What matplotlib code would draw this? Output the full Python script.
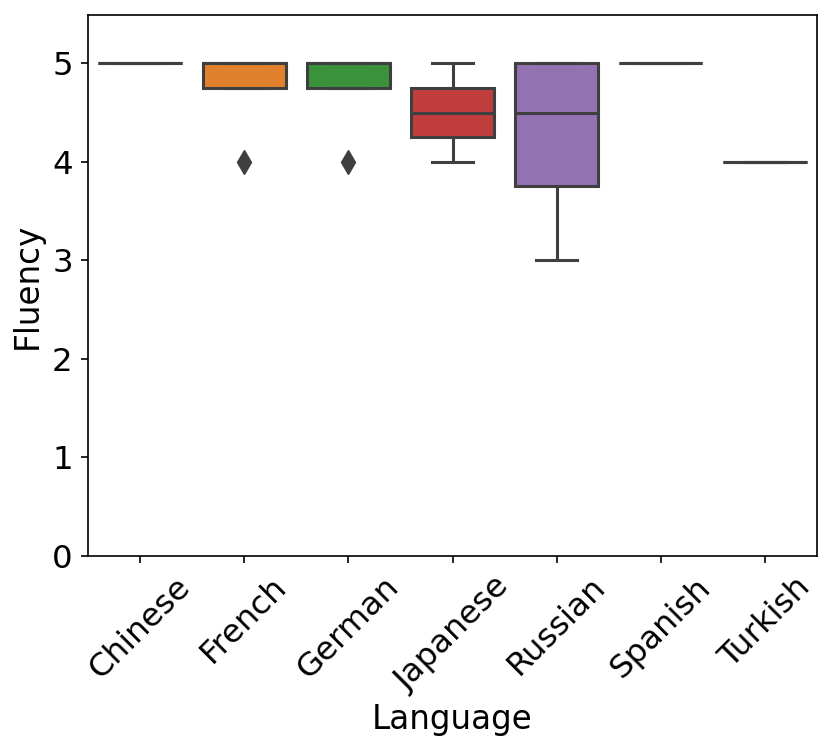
import matplotlib
matplotlib.use("Agg")
import matplotlib.pyplot as plt
import pandas as pd
import seaborn as sns

languages = ["Chinese", "French", "German", "Japanese", "Russian", "Spanish", "Turkish"]
chinese = [5, 5]
french = [4, 5, 5, 5]
german = [4, 5, 5, 5]
japanese = [4, 5]
russian = [3, 4, 5, 5]
spanish = [5, 5]
turkish = [4, 4]

scores = [chinese, french, german, japanese, russian, spanish, turkish]
rows = []
for lang, vals in zip(languages, scores):
    for v in vals:
        rows.append({"Language": lang, "Fluency": v})
df = pd.DataFrame(rows)

plt.rcParams["font.family"] = ["DejaVu Sans"]
fig = plt.figure(figsize=(8.31, 7.52), dpi=100)
ax = fig.add_axes([88 / 831, 1 - 556 / 752, (817 - 88) / 831, (556 - 15) / 752])

sns.boxplot(
    data=df, x="Language", y="Fluency", hue="Language", order=languages,
    palette="tab10", saturation=0.75, linewidth=2.2, linecolor="#3f3f3f",
    legend=False, ax=ax,
    flierprops={"marker": "d", "markerfacecolor": "#3f3f3f",
                "markeredgecolor": "#3f3f3f", "markersize": 12},
)
ax.set_ylim(0, 5.49)
ax.set_xlim(-0.5, 6.5)
for s in ax.spines.values():
    s.set_linewidth(1.2)
ax.set_xlabel("Language", fontsize=23.5, labelpad=4)
ax.set_ylabel("Fluency", fontsize=23.5, labelpad=6)
ax.tick_params(axis="both", length=5, width=1.2, labelsize=23.3, pad=6)
ax.tick_params(axis="x", labelrotation=45)
fig.savefig("out.png", dpi=100)
